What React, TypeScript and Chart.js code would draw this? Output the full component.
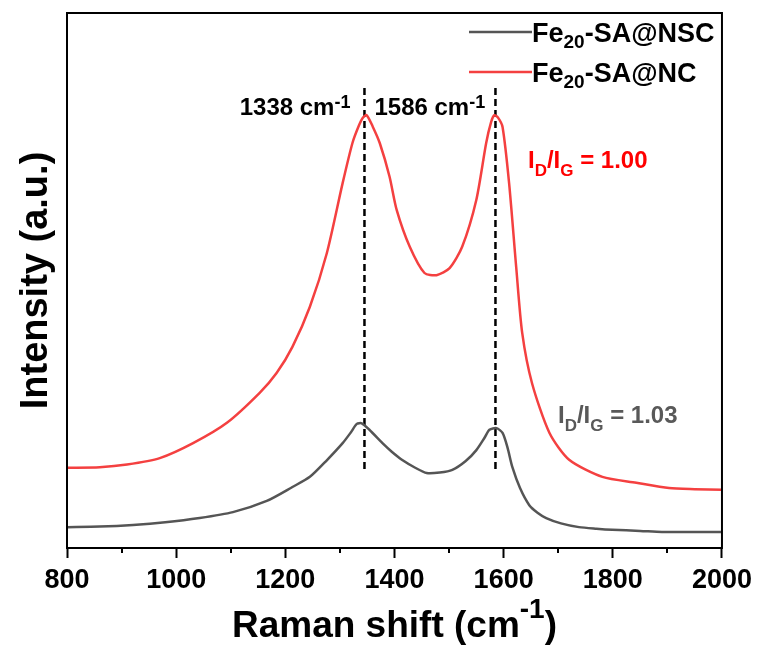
import React, { useEffect, useRef } from "react";
import { Chart, registerables } from "chart.js";

Chart.register(...registerables);

// ---- data ----
const ramanShiftNSC = [800, 860, 921, 980, 1043, 1104, 1166, 1213, 1245, 1276, 1305, 1320, 1331, 1340, 1354, 1378, 1395, 1415, 1438, 1459, 1483, 1506, 1530, 1550, 1565, 1574, 1587, 1598, 1607, 1616, 1630, 1647, 1662, 1678, 1705, 1738, 1770, 1799, 1850, 1890, 1950, 2000];
const intensityNSC = [3.9, 4.0, 4.3, 4.8, 5.6, 6.7, 8.8, 11.4, 13.3, 16.4, 19.6, 21.6, 23.2, 23.3, 22.1, 19.6, 18.0, 16.4, 15.0, 14.0, 14.1, 14.6, 16.2, 18.3, 20.6, 22.1, 22.4, 21.5, 18.8, 15.1, 11.2, 8.0, 6.6, 5.6, 4.6, 3.9, 3.6, 3.4, 3.2, 3.0, 3.0, 3.0];

const ramanShiftNC = [800, 860, 910, 970, 1031, 1093, 1153, 1184, 1213, 1245, 1276, 1305, 1323, 1335, 1342, 1349, 1360, 1373, 1391, 1404, 1428, 1455, 1477, 1501, 1524, 1550, 1568, 1577, 1583, 1590, 1598, 1610, 1623, 1634, 1652, 1684, 1720, 1781, 1843, 1903, 1950, 2000];
const intensityNC = [15.0, 15.1, 15.6, 16.8, 19.6, 23.4, 29.0, 32.7, 37.6, 45.1, 55.1, 68.2, 75.7, 79.0, 80.4, 80.9, 78.8, 75.7, 69.4, 63.2, 56.3, 51.4, 51.0, 52.3, 56.3, 65.1, 75.7, 79.6, 80.9, 80.4, 78.7, 68.2, 52.5, 40.2, 30.8, 21.5, 16.5, 13.3, 12.2, 11.2, 11.0, 10.9];

const peakPositions = [1345, 1585];
const peakLabels = ["1338", "1586"];
const peakLineTop = 86;
const peakLineBottom = 14.2;

const xMin = 800;
const xMax = 2000;
const xMajorStep = 200;
const xMinorTicks = [900, 1100, 1300, 1500, 1700, 1900];

const seriesNames = ["Fe", "-SA@NSC", "Fe", "-SA@NC"];
const ratioNC = "1.00";
const ratioNSC = "1.03";

const FONT = '"Liberation Sans", Arial, Helvetica, sans-serif';
const GRAY = "#555555";
const RED = "#f44040";

type Seg = { t: string; k?: "sub" | "sup" };

function drawRich(
  ctx: CanvasRenderingContext2D,
  segs: Seg[],
  x: number,
  y: number,
  size: number,
  small: number,
  subDy: number,
  supDy: number,
  color: string,
  align: "left" | "right" | "center" = "left"
) {
  ctx.save();
  ctx.fillStyle = color;
  ctx.textBaseline = "alphabetic";
  ctx.textAlign = "left";
  const widths = segs.map((s) => {
    ctx.font = `bold ${s.k ? small : size}px ${FONT}`;
    return ctx.measureText(s.t).width;
  });
  const total = widths.reduce((a, b) => a + b, 0);
  let cx = x;
  if (align === "right") cx = x - total;
  else if (align === "center") cx = x - total / 2;
  segs.forEach((s, i) => {
    ctx.font = `bold ${s.k ? small : size}px ${FONT}`;
    const dy = s.k === "sub" ? subDy : s.k === "sup" ? -supDy : 0;
    ctx.fillText(s.t, cx, y + dy);
    cx += widths[i];
  });
  ctx.restore();
}

const decorPlugin = {
  id: "decor",
  afterDraw(chart: any) {
    const ctx: CanvasRenderingContext2D = chart.ctx;
    const { left, right, top, bottom } = chart.chartArea;
    const xs = chart.scales.x;

    // frame
    ctx.save();
    ctx.strokeStyle = "#000";
    ctx.lineWidth = 2;
    ctx.strokeRect(left, top, right - left, bottom - top);
    // minor ticks
    ctx.beginPath();
    xMinorTicks.forEach((v) => {
      const px = Math.round(xs.getPixelForValue(v));
      ctx.moveTo(px, bottom);
      ctx.lineTo(px, bottom + 5);
    });
    ctx.stroke();
    ctx.restore();

    // axis titles
    const midX = (left + right) / 2;
    drawRich(ctx, [{ t: "Raman shift (cm" }, { t: "-1", k: "sup" }, { t: ")" }], midX, 637, 37, 28, 0, 19, "#000", "center");

    ctx.save();
    ctx.translate(47, (top + bottom) / 2);
    ctx.rotate(-Math.PI / 2);
    ctx.font = `bold 38px ${FONT}`;
    ctx.fillStyle = "#000";
    ctx.textAlign = "center";
    ctx.textBaseline = "alphabetic";
    ctx.fillText("Intensity (a.u.)", 0, 0);
    ctx.restore();

    // peak labels
    const p0 = xs.getPixelForValue(peakPositions[0]);
    drawRich(ctx, [{ t: peakLabels[0] + " cm" }, { t: "-1", k: "sup" }], p0 - 14, 115, 24, 18, 0, 7, "#000", "right");
    drawRich(ctx, [{ t: peakLabels[1] + " cm" }, { t: "-1", k: "sup" }], p0 + 10, 115, 24, 18, 0, 7, "#000", "left");

    // ratio labels
    drawRich(ctx, [{ t: "I" }, { t: "D", k: "sub" }, { t: "/I" }, { t: "G", k: "sub" }, { t: " = " + ratioNC }], 528, 168, 24, 17, 8, 0, "#ff0000");
    drawRich(ctx, [{ t: "I" }, { t: "D", k: "sub" }, { t: "/I" }, { t: "G", k: "sub" }, { t: " = " + ratioNSC }], 558, 423, 24, 17, 8, 0, "#595959");

    // legend
    const rows = [
      { color: GRAY, y: 42, name: seriesNames[1] },
      { color: RED, y: 82, name: seriesNames[3] },
    ];
    rows.forEach((r) => {
      ctx.save();
      ctx.strokeStyle = r.color;
      ctx.lineWidth = 2.5;
      ctx.beginPath();
      ctx.moveTo(469, r.y - 10);
      ctx.lineTo(532, r.y - 10);
      ctx.stroke();
      ctx.restore();
      drawRich(ctx, [{ t: "Fe" }, { t: "20", k: "sub" }, { t: r.name }], 532, r.y, 27, 19, 6, 0, "#000");
    });
  },
};

export default function App() {
  const ref = useRef<HTMLCanvasElement | null>(null);

  useEffect(() => {
    if (!ref.current) return;
    const nsc = ramanShiftNSC.map((x, i) => ({ x, y: intensityNSC[i] }));
    const nc = ramanShiftNC.map((x, i) => ({ x, y: intensityNC[i] }));
    const peakSets = peakPositions.map((p) => ({
      data: [
        { x: p, y: peakLineTop },
        { x: p, y: peakLineBottom },
      ],
      borderColor: "#000",
      borderWidth: 2.5,
      borderDash: [7, 4],
      pointRadius: 0,
      tension: 0,
    }));
    const chart = new Chart(ref.current, {
      type: "line",
      data: {
        datasets: [
          { data: nsc, borderColor: GRAY, borderWidth: 2.5, pointRadius: 0, tension: 0.25 },
          { data: nc, borderColor: RED, borderWidth: 2.5, pointRadius: 0, tension: 0.25 },
          ...peakSets,
        ] as any,
      },
      options: {
        responsive: false,
        animation: false,
        layout: { padding: { left: 0, top: 13, right: 33, bottom: 0 } },
        plugins: { legend: { display: false }, tooltip: { enabled: false } },
        scales: {
          x: {
            type: "linear",
            min: xMin,
            max: xMax,
            ticks: {
              stepSize: xMajorStep,
              color: "#000",
              font: { family: FONT, size: 27, weight: "bold" },
              padding: 6,
              maxRotation: 0,
              callback: (v: any) => String(v),
            },
            grid: { drawOnChartArea: false, tickLength: 10, tickWidth: 2, tickColor: "#000" },
            border: { color: "#000", width: 2 },
            afterFit: (s: any) => {
              s.height = 98;
            },
          },
          y: {
            min: 0,
            max: 100,
            ticks: { display: false },
            grid: { display: false },
            border: { color: "#000", width: 2 },
            afterFit: (s: any) => {
              s.width = 67;
            },
          },
        },
      } as any,
      plugins: [decorPlugin],
    });
    return () => chart.destroy();
  }, []);

  return (
    <div style={{ position: "fixed", left: 0, top: 0, width: 758, height: 646, background: "#fff" }}>
      <canvas ref={ref} width={758} height={646} />
    </div>
  );
}
